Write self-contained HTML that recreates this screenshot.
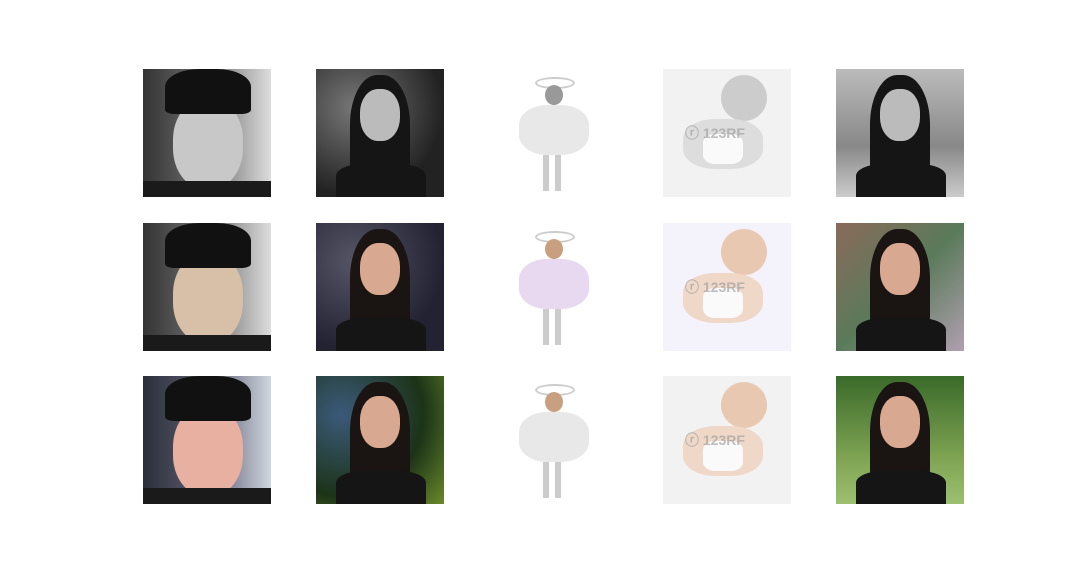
<!DOCTYPE html>
<html><head><meta charset="utf-8">
<style>
body{margin:0;width:1080px;height:576px;background:#fff;position:relative;overflow:hidden;font-family:"Liberation Sans",sans-serif}
.t{position:absolute;width:128px;height:128px;overflow:hidden}
.t div{position:absolute}
.gray{filter:grayscale(1)}
.wm{position:absolute;color:rgba(150,150,150,.6);font-size:14px;font-weight:bold;left:22px;top:54px}
</style></head><body>
<div id="grid"></div>
<script>
const rows=[69,223,376];
const cols=[143,316,489,663,836];
const rowKinds=['gray','color-noisy','color'];
function man(t,r){t.style.background=r===2?'linear-gradient(90deg,#2a2f3a,#556 40%,#889 70%,#cfd8e0)':'linear-gradient(90deg,#333,#666 40%,#999 70%,#ddd)';
 t.innerHTML='<div style="left:30px;top:30px;width:70px;height:90px;border-radius:45%;background:'+(r===2?'#e8b0a0':r===1?'#d8c0a8':'#c8c8c8')+'"></div><div style="left:22px;top:0;width:86px;height:45px;border-radius:40% 40% 10% 10%;background:#111"></div><div style="left:0;top:112px;width:128px;height:16px;background:#1a1a1a"></div>';}
function woman(t,r,dark){t.style.background=dark?(r===2?'radial-gradient(circle at 20% 30%,#3b5a7a,#1c3318 60%,#6a8a2a)':r===1?'radial-gradient(circle at 30% 30%,#556,#223 70%)':'radial-gradient(circle at 30% 30%,#777,#222 70%)'):(r===2?'linear-gradient(#3a6a2a,#7aa050 60%,#9ac070)':r===1?'linear-gradient(135deg,#8a6a5a,#5a7a5a,#b0a0b0)':'linear-gradient(#bbb,#888 60%,#ccc)');
 t.innerHTML='<div style="left:34px;top:6px;width:60px;height:110px;border-radius:45% 45% 20% 20%;background:#1a1412"></div><div style="left:44px;top:20px;width:40px;height:52px;border-radius:45%;background:'+(r===0?'#bbb':'#d9a890')+'"></div><div style="left:20px;top:95px;width:90px;height:40px;border-radius:30% 30% 0 0;background:#151515"></div>';}
function girl(t,r){t.style.background='#fff';
 t.innerHTML='<div style="left:46px;top:8px;width:36px;height:8px;border-radius:50%;border:2px solid #ccc"></div><div style="left:56px;top:16px;width:18px;height:20px;border-radius:50%;background:'+(r===0?'#999':'#c8a080')+'"></div><div style="left:30px;top:36px;width:70px;height:50px;border-radius:40%;background:'+(r===1?'#e8d8f0':'#e8e8e8')+'"></div><div style="left:54px;top:86px;width:6px;height:36px;background:#ccc"></div><div style="left:66px;top:86px;width:6px;height:36px;background:#ccc"></div>';}
function baby(t,r){t.style.background=r===1?'#f4f2fa':'#f2f2f2';
 t.innerHTML='<div style="left:58px;top:6px;width:46px;height:46px;border-radius:50%;background:'+(r===0?'#ccc':'#e8c8b0')+'"></div><div style="left:20px;top:50px;width:80px;height:50px;border-radius:40%;background:'+(r===0?'#ddd':'#f0d8c8')+'"></div><div style="left:40px;top:65px;width:40px;height:30px;background:#fafafa;border-radius:30%"></div><span class="wm">\u24e1 123RF</span>';}
const g=document.getElementById('grid');
rows.forEach((y,r)=>cols.forEach((x,c)=>{
 const t=document.createElement('div');t.className='t';t.style.left=x+'px';t.style.top=y+'px';
 
 
 [man,(t,r)=>woman(t,r,true),girl,baby,(t,r)=>woman(t,r,false)][c](t,r);
 if(r===0)t.classList.add('gray');
 g.appendChild(t);
}));
</script>
</body></html>
